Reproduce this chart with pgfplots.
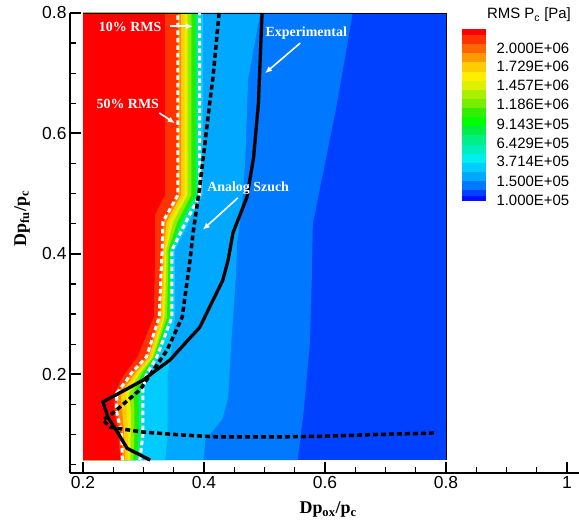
\documentclass[border=0pt]{standalone}
\usepackage{pgfplots}
\pgfplotsset{compat=1.18}
\usepackage{fontspec}
\setmainfont{Liberation Serif}
\newfontfamily\arial{Liberation Sans}
\usetikzlibrary{arrows.meta}
\definecolor{cRed}{HTML}{FF0000}
\definecolor{cOR}{HTML}{FF3300}
\definecolor{cOr}{HTML}{FF8800}
\definecolor{cGold}{HTML}{FFD000}
\definecolor{cYel}{HTML}{E8F000}
\definecolor{cYG}{HTML}{90EE00}
\definecolor{cGr}{HTML}{20EE00}
\definecolor{cSp}{HTML}{00EE90}
\definecolor{cCy}{HTML}{00CCFF}
\definecolor{cLB}{HTML}{00A8FF}
\definecolor{cMB}{HTML}{0078FF}
\definecolor{cDB}{HTML}{0040FF}
% colour bar, bottom to top
\definecolor{cb1}{HTML}{0010FF}
\definecolor{cb2}{HTML}{0040FF}
\definecolor{cb3}{HTML}{0078FF}
\definecolor{cb4}{HTML}{00A8FF}
\definecolor{cb5}{HTML}{00CCFF}
\definecolor{cb6}{HTML}{00EEEE}
\definecolor{cb7}{HTML}{00EEBB}
\definecolor{cb8}{HTML}{00EE88}
\definecolor{cb9}{HTML}{00EE44}
\definecolor{cb10}{HTML}{00FF00}
\definecolor{cb11}{HTML}{33EE00}
\definecolor{cb12}{HTML}{77EE00}
\definecolor{cb13}{HTML}{AAEE00}
\definecolor{cb14}{HTML}{DDF000}
\definecolor{cb15}{HTML}{FFEE00}
\definecolor{cb16}{HTML}{FFCC00}
\definecolor{cb17}{HTML}{FF9900}
\definecolor{cb18}{HTML}{FF6600}
\definecolor{cb19}{HTML}{FF3300}
\definecolor{cb20}{HTML}{FF0000}
\begin{document}
\begin{tikzpicture}
\useasboundingbox (-70bp,-53bp) rectangle (509bp,473bp);
\begin{axis}[
  scale only axis, width=509bp, height=460bp,
  at={(0,0)}, anchor=south west,
  xmin=0.1785, xmax=1.02, ymin=0.036, ymax=0.8,
  axis x line*=bottom, axis y line*=left,
  axis line style={line width=2.8bp, -},
  tick align=inside,
  xtick={0.2,0.4,0.6,0.8,1}, ytick={0.2,0.4,0.6,0.8},
  minor xtick={0.25,0.3,0.35,0.45,0.5,0.55,0.65,0.7,0.75,0.85,0.9,0.95},
  minor ytick={0.05,0.1,0.15,0.25,0.3,0.35,0.45,0.5,0.55,0.65,0.7,0.75},
  major tick length=11bp, minor tick length=6.5bp,
  major tick style={line width=2bp, black},
  minor tick style={line width=1.3bp, black},
  ticklabel style={font=\arial\fontsize{17.5}{17.5}\selectfont},
  /pgf/number format/assume math mode=true,
  clip=false,
  xlabel={Dp\textsubscript{ox}/p\textsubscript{c}},
  ylabel={Dp\textsubscript{fu}/p\textsubscript{c}},
  xlabel style={at={(axis description cs:0.507,-0.08)}, anchor=center, font=\bfseries\fontsize{18}{18}\selectfont},
  ylabel style={at={(axis description cs:-0.094,0.553)}, anchor=center, font=\bfseries\fontsize{18}{18}\selectfont},
]
% contour bands (painted from outermost to innermost)
\addplot[fill=cDB, draw=none] coordinates {(0.2,0.0575)(0.8,0.0575)(0.8,0.8)(0.2,0.8)} -- cycle;
\addplot[fill=cMB, draw=none] coordinates {(0.2,0.0575)(0.555,0.0575)(0.565,0.14)(0.575,0.25)(0.578,0.35)(0.58,0.45)(0.59,0.5)(0.62,0.65)(0.646,0.8)(0.2,0.8)} -- cycle;
\addplot[fill=cLB, draw=none] coordinates {(0.2,0.0575)(0.40,0.0575)(0.402,0.09)(0.43,0.125)(0.44,0.16)(0.445,0.25)(0.452,0.35)(0.455,0.42)(0.462,0.47)(0.468,0.55)(0.473,0.69)(0.493,0.8)(0.2,0.8)} -- cycle;
\addplot[fill=cCy, draw=none] coordinates {(0.2,0.0575)(0.336,0.0575)(0.340,0.10)(0.340,0.2)(0.345,0.229)(0.352,0.295)(0.352,0.406)(0.398,0.498)(0.398,0.8)(0.2,0.8)} -- cycle;
\addplot[fill=cSp, draw=none] coordinates {(0.2,0.0575)(0.294,0.0575)(0.299,0.10)(0.299,0.14)(0.299,0.169)(0.299,0.174)(0.302,0.19)(0.306,0.202)(0.322,0.229)(0.347,0.295)(0.347,0.39)(0.347,0.406)(0.370,0.453)(0.393,0.498)(0.393,0.8)(0.2,0.8)} -- cycle;
\addplot[fill=cGr, draw=none] coordinates {(0.2,0.0575)(0.288,0.0575)(0.292,0.10)(0.292,0.14)(0.291,0.169)(0.292,0.174)(0.297,0.19)(0.302,0.202)(0.319,0.229)(0.343,0.295)(0.344,0.39)(0.344,0.406)(0.362,0.453)(0.386,0.498)(0.386,0.8)(0.2,0.8)} -- cycle;
\addplot[fill=cYG, draw=none] coordinates {(0.2,0.0575)(0.283,0.0575)(0.285,0.10)(0.285,0.14)(0.283,0.169)(0.285,0.174)(0.292,0.19)(0.298,0.202)(0.317,0.229)(0.339,0.295)(0.341,0.39)(0.341,0.406)(0.356,0.453)(0.379,0.498)(0.379,0.8)(0.2,0.8)} -- cycle;
\addplot[fill=cYel, draw=none] coordinates {(0.2,0.0575)(0.278,0.0575)(0.279,0.10)(0.279,0.14)(0.276,0.169)(0.279,0.174)(0.287,0.19)(0.294,0.202)(0.315,0.229)(0.335,0.295)(0.338,0.39)(0.338,0.406)(0.349,0.453)(0.373,0.498)(0.373,0.8)(0.2,0.8)} -- cycle;
\addplot[fill=cGold, draw=none] coordinates {(0.2,0.0575)(0.274,0.0575)(0.274,0.10)(0.273,0.14)(0.270,0.169)(0.274,0.174)(0.283,0.19)(0.291,0.202)(0.313,0.229)(0.332,0.295)(0.335,0.39)(0.336,0.406)(0.343,0.453)(0.368,0.498)(0.368,0.8)(0.2,0.8)} -- cycle;
\addplot[fill=cOr, draw=none] coordinates {(0.2,0.0575)(0.269,0.0575)(0.268,0.10)(0.265,0.14)(0.262,0.169)(0.266,0.174)(0.278,0.19)(0.286,0.202)(0.309,0.229)(0.329,0.295)(0.333,0.39)(0.333,0.406)(0.338,0.453)(0.362,0.498)(0.362,0.8)(0.2,0.8)} -- cycle;
\addplot[fill=cOR, draw=none] coordinates {(0.2,0.0575)(0.265,0.0575)(0.264,0.10)(0.255,0.14)(0.256,0.169)(0.260,0.174)(0.272,0.19)(0.280,0.202)(0.305,0.229)(0.326,0.295)(0.330,0.39)(0.331,0.406)(0.332,0.453)(0.357,0.498)(0.357,0.8)(0.2,0.8)} -- cycle;
\addplot[fill=cRed, draw=none] coordinates {(0.2,0.0575)(0.262,0.0575)(0.258,0.10)(0.252,0.14)(0.252,0.169)(0.255,0.174)(0.262,0.19)(0.270,0.202)(0.290,0.229)(0.317,0.295)(0.319,0.39)(0.319,0.465)(0.3355,0.498)(0.3355,0.8)(0.2,0.8)} -- cycle;
% frame of the field
\addplot[black, line width=0.8bp] coordinates {(0.2,0.8)(0.8,0.8)(0.8,0.0575)};
% 50% and 10% RMS iso-lines
\addplot[white, line width=3bp, dash pattern=on 4.5bp off 3bp] coordinates {(0.265,0.0575)(0.264,0.10)(0.255,0.14)(0.256,0.169)(0.260,0.174)(0.272,0.19)(0.280,0.202)(0.305,0.229)(0.326,0.295)(0.330,0.39)(0.331,0.406)(0.332,0.453)(0.357,0.498)(0.357,0.8)};
\addplot[white, line width=3bp, dash pattern=on 4.5bp off 3bp] coordinates {(0.294,0.0575)(0.299,0.10)(0.299,0.14)(0.299,0.169)(0.299,0.174)(0.302,0.19)(0.306,0.202)(0.322,0.229)(0.347,0.295)(0.347,0.39)(0.347,0.406)(0.370,0.453)(0.393,0.498)(0.393,0.8)};
% Analog Szuch
\addplot[black, line width=3.5bp, dash pattern=on 5bp off 3bp] coordinates {(0.425,0.8)(0.415,0.694)(0.41,0.655)(0.393,0.511)(0.382,0.435)(0.377,0.39)(0.364,0.295)(0.339,0.24)(0.294,0.174)(0.25,0.136)(0.233,0.124)(0.245,0.112)(0.299,0.104)(0.365,0.099)(0.421,0.096)(0.526,0.096)(0.597,0.097)(0.686,0.1)(0.769,0.102)(0.785,0.103)};
% Experimental
\addplot[black, line width=3.3bp] coordinates {(0.496,0.8)(0.490,0.65)(0.482,0.56)(0.471,0.494)(0.448,0.435)(0.440,0.39)(0.431,0.356)(0.393,0.278)(0.344,0.224)(0.299,0.19)(0.233,0.154)(0.241,0.129)(0.258,0.102)(0.273,0.077)(0.311,0.0575)};
% annotations
\node[text=white, font=\bfseries\fontsize{14}{14}\selectfont] at (axis cs:0.278,0.777) {10\% RMS};
\draw[white, line width=1.6bp, -{Latex[length=7bp,width=6bp]}] (axis cs:0.344,0.778) -- (axis cs:0.382,0.778);
\node[text=white, font=\bfseries\fontsize{14}{14}\selectfont] at (axis cs:0.274,0.649) {50\% RMS};
\draw[white, line width=1.6bp, -{Latex[length=7bp,width=6bp]}] (axis cs:0.326,0.634) -- (axis cs:0.352,0.617);
\node[text=white, font=\bfseries\fontsize{14}{14}\selectfont] at (axis cs:0.569,0.767) {Experimental};
\draw[white, line width=1.6bp, -{Latex[length=7bp,width=6bp]}] (axis cs:0.559,0.750) -- (axis cs:0.501,0.700);
\node[text=white, font=\bfseries\fontsize{14}{14}\selectfont] at (axis cs:0.473,0.509) {Analog Szuch};
\draw[white, line width=1.6bp, -{Latex[length=7bp,width=6bp]}] (axis cs:0.456,0.493) -- (axis cs:0.398,0.440);
\end{axis}
% colour bar
\begin{axis}[
  at={(392bp,272bp)}, anchor=south west,
  scale only axis, width=24bp, height=172bp,
  xmin=0, xmax=1, ymin=0, ymax=172,
  hide x axis, axis y line*=right,
  y axis line style={draw=none},
  ytick style={draw=none}, major tick length=0pt,
  ytick={0.3,19.7,39.7,58,77,96.3,115.3,134.3,153},
  yticklabels={1.000E+05,1.500E+05,3.714E+05,6.429E+05,9.143E+05,1.186E+06,1.457E+06,1.729E+06,2.000E+06},
  yticklabel style={font=\arial\fontsize{15}{15}\selectfont, xshift=7bp},
  clip=false,
]
\addplot[fill=cb1, draw=none] coordinates {(0,0)(1,0)(1,4.7)(0,4.7)} -- cycle;
\addplot[fill=cb2, draw=none] coordinates {(0,4.7)(1,4.7)(1,10.7)(0,10.7)} -- cycle;
\addplot[fill=cb3, draw=none] coordinates {(0,10.7)(1,10.7)(1,19.7)(0,19.7)} -- cycle;
\addplot[fill=cb4, draw=none] coordinates {(0,19.7)(1,19.7)(1,29)(0,29)} -- cycle;
\addplot[fill=cb5, draw=none] coordinates {(0,29)(1,29)(1,38)(0,38)} -- cycle;
\addplot[fill=cb6, draw=none] coordinates {(0,38)(1,38)(1,47.3)(0,47.3)} -- cycle;
\addplot[fill=cb7, draw=none] coordinates {(0,47.3)(1,47.3)(1,56.3)(0,56.3)} -- cycle;
\addplot[fill=cb8, draw=none] coordinates {(0,56.3)(1,56.3)(1,65.7)(0,65.7)} -- cycle;
\addplot[fill=cb9, draw=none] coordinates {(0,65.7)(1,65.7)(1,74.7)(0,74.7)} -- cycle;
\addplot[fill=cb10, draw=none] coordinates {(0,74.7)(1,74.7)(1,83.7)(0,83.7)} -- cycle;
\addplot[fill=cb11, draw=none] coordinates {(0,83.7)(1,83.7)(1,93)(0,93)} -- cycle;
\addplot[fill=cb12, draw=none] coordinates {(0,93)(1,93)(1,102.3)(0,102.3)} -- cycle;
\addplot[fill=cb13, draw=none] coordinates {(0,102.3)(1,102.3)(1,111.3)(0,111.3)} -- cycle;
\addplot[fill=cb14, draw=none] coordinates {(0,111.3)(1,111.3)(1,120.3)(0,120.3)} -- cycle;
\addplot[fill=cb15, draw=none] coordinates {(0,120.3)(1,120.3)(1,129.3)(0,129.3)} -- cycle;
\addplot[fill=cb16, draw=none] coordinates {(0,129.3)(1,129.3)(1,138.7)(0,138.7)} -- cycle;
\addplot[fill=cb17, draw=none] coordinates {(0,138.7)(1,138.7)(1,148)(0,148)} -- cycle;
\addplot[fill=cb18, draw=none] coordinates {(0,148)(1,148)(1,157.3)(0,157.3)} -- cycle;
\addplot[fill=cb19, draw=none] coordinates {(0,157.3)(1,157.3)(1,166.3)(0,166.3)} -- cycle;
\addplot[fill=cb20, draw=none] coordinates {(0,166.3)(1,166.3)(1,172)(0,172)} -- cycle;
\node[font=\arial\fontsize{15}{15}\selectfont] at (axis cs:2.79,186) {RMS P\textsubscript{c} [Pa]};
\end{axis}
\end{tikzpicture}
\end{document}
